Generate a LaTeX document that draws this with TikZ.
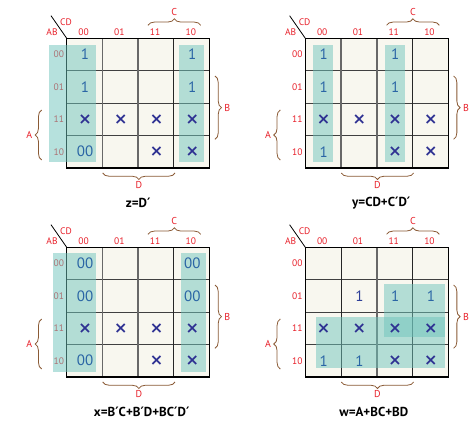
\documentclass[tikz,border=0pt]{standalone}
\usepackage{fontspec}
\setmainfont{PT Sans}
\newfontfamily\symfont{DejaVu Sans}
\newcommand\pr{{\symfont ′}}
\usetikzlibrary{decorations.pathreplacing}
\definecolor{lblred}{HTML}{E8202A}
\definecolor{brbrown}{HTML}{8A5A35}
\definecolor{cream}{HTML}{F8F7EF}
\definecolor{hl}{HTML}{6FC4BD}
\definecolor{onecol}{HTML}{2A65A5}
\definecolor{onedark}{HTML}{2E3F98}
\definecolor{xcol}{HTML}{2E3192}
\definecolor{gline}{HTML}{686868}
\tikzset{
  lbl/.style={text=lblred, font=\fontsize{9.5}{10}\selectfont, inner sep=0pt},
  brlbl/.style={text=lblred, font=\fontsize{10}{10}\selectfont, inner sep=0pt},
  onev/.style={text=onecol, font=\fontsize{15}{15}\selectfont, inner sep=0pt},
  xv/.style={text=xcol, font=\symfont\fontsize{16}{16}\selectfont\bfseries, inner sep=0pt},
  hlbox/.style={fill=hl, fill opacity=0.5, draw=none},
  br/.style={draw=brbrown, line width=0.8pt, decorate, decoration={brace, amplitude=6.5pt}},
  expr/.style={font=\fontsize{13}{13}\selectfont\bfseries, inner sep=0pt},
  thickv/.style={draw=gline, line width=1.7pt},
  thinv/.style={draw=black!85, line width=1pt},
  hline/.style={draw=black!75, line width=1.1pt},
  border/.style={draw=black, line width=1.3pt},
}
\newcommand\mapbase[5]{%
  \fill[cream] (0,0) rectangle (143,129.6);
  \node[lbl] (hAB) at (-14.7,-6.3) {AB};
  \node[lbl] (hCD) at (-0.7,-16.3) {CD};
  \coordinate (dg) at (-15.7,-22.6);
  \coordinate (corner) at (0,0);
  \draw[black, line width=0.8pt] (dg) -- (corner);
  \foreach \t [count=\i from 0] in {00,01,11,10}
    \node[lbl] (col\t) at ({(\i+0.5)*35.75-1},-6.3) {\t};
  \foreach \t [count=\j from 0] in {00,01,11,10}
    \node[lbl, anchor=east] (row\t) at (-2.5,{(\j+0.5)*32.4}) {\t};
  \coordinate (c1) at (81.3,-13); \coordinate (c2) at (134,-13);
  \draw[br] (c1) -- (c2) node[brlbl, midway, above=9pt] (lC) {C};
  \coordinate (b1) at (148.3,37.7); \coordinate (b2) at (148.3,101);
  \draw[br] (b1) -- (b2) node[brlbl, midway, right=9pt] (lB) {B};
  \coordinate (a1) at (-25,121.7); \coordinate (a2) at (-25,71.7);
  \draw[br] (a1) -- (a2) node[brlbl, midway, left=9pt] (lA) {A};
  \coordinate (d1) at (108.3,134.7); \coordinate (d2) at (36,134.7);
  \draw[br] (d1) -- (d2) node[brlbl, midway, below=8pt] (lD) {D};
  \foreach \j in {1,2,3} \draw[hline] (0,{\j*32.4}) -- (143,{\j*32.4});
  \draw[#1] (35.75,0) -- (35.75,129.6);
  \draw[#2] (71.5,0) -- (71.5,129.6);
  \draw[#3] (107.25,0) -- (107.25,129.6);
  \draw[border] (0,0) rectangle (143,129.6);
  \node[expr] (expr) at (#4,165) {#5};
}
\newcommand\val[4]{\node[#1] (v#2#3) at ({(#2+0.5)*35.75+0.5},{(#3+0.5)*32.4}) {#4};}
\begin{document}
\begin{tikzpicture}[x=1pt,y=-1pt]
\useasboundingbox (0,0) rectangle (476,425);
\fill[white] (0,0) rectangle (476,425);
% map 1
\begin{scope}[shift={(66.7,38.3)}, name prefix=m1-]
  \mapbase{thickv}{thickv}{thinv}{71.5}{z=D\pr}
  \fill[hlbox] (-17.4,6.7) rectangle (29,124);
  \fill[hlbox] (112.6,6.7) rectangle (137.3,124);
  \val{onev}{0}{0}{1} \val{onev}{3}{0}{1}
  \val{onev}{0}{1}{1} \val{onev}{3}{1}{1}
  \val{xv}{0}{2}{×} \val{xv}{1}{2}{×} \val{xv}{2}{2}{×} \val{xv}{3}{2}{×}
  \val{onev}{0}{3}{00} \val{xv}{2}{3}{×} \val{xv}{3}{3}{×}
\end{scope}
% map 2
\begin{scope}[shift={(305.3,38.3)}, name prefix=m2-]
  \mapbase{thickv}{thickv}{thinv}{76}{y=CD+C\pr D\pr}
  \fill[hlbox] (7.7,6.7) rectangle (28,124);
  \fill[hlbox] (79.7,6.7) rectangle (99.7,124);
  \val{onev}{0}{0}{1} \val{onev}{2}{0}{1}
  \val{onev}{0}{1}{1} \val{onev}{2}{1}{1}
  \val{xv}{0}{2}{×} \val{xv}{1}{2}{×} \val{xv}{2}{2}{×} \val{xv}{3}{2}{×}
  \val{onev}{0}{3}{1} \val{xv}{2}{3}{×} \val{xv}{3}{3}{×}
\end{scope}
% map 3
\begin{scope}[shift={(66.7,247.3)}, name prefix=m3-]
  \mapbase{thickv}{thickv}{thinv}{75}{x=B\pr C+B\pr D+BC\pr D\pr}
  \fill[hlbox] (-13.4,6) rectangle (29,124.4);
  \fill[hlbox] (114.3,6) rectangle (139,124.4);
  \val{onev}{0}{0}{00} \val{onev}{3}{0}{00}
  \val{onev}{0}{1}{00} \val{onev}{3}{1}{00}
  \val{xv}{0}{2}{×} \val{xv}{1}{2}{×} \val{xv}{2}{2}{×} \val{xv}{3}{2}{×}
  \val{onev}{0}{3}{00} \val{xv}{2}{3}{×} \val{xv}{3}{3}{×}
\end{scope}
% map 4
\begin{scope}[shift={(305.3,247.3)}, name prefix=m4-]
  \mapbase{thinv}{thickv}{thinv}{68.5}{w=A+BC+BD}
  \fill[hlbox] (10.7,70) rectangle (139.7,120.4);
  \fill[hlbox] (78.7,36.7) rectangle (139.7,89.4);
  \val{onev,text=onedark}{1}{1}{1} \val{onev}{2}{1}{1} \val{onev}{3}{1}{1}
  \val{xv}{0}{2}{×} \val{xv}{1}{2}{×} \val{xv}{2}{2}{×} \val{xv}{3}{2}{×}
  \val{onev}{0}{3}{1} \val{onev}{1}{3}{1} \val{xv}{2}{3}{×} \val{xv}{3}{3}{×}
\end{scope}
\end{tikzpicture}
\end{document}
